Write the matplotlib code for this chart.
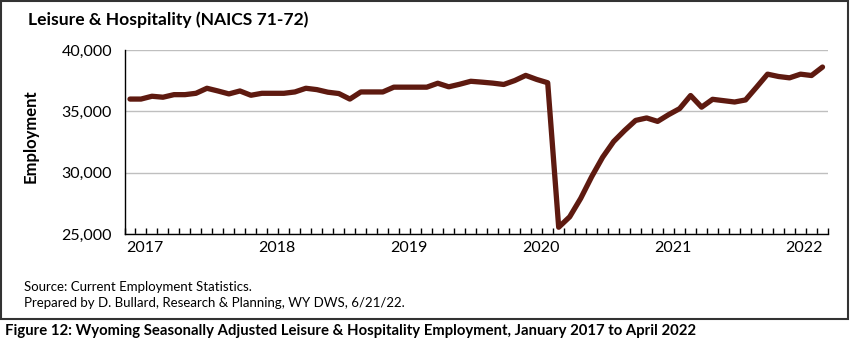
import matplotlib
matplotlib.use("Agg")
import matplotlib.pyplot as plt
from matplotlib.patches import Rectangle
import numpy as np

plt.rcParams['font.family'] = ['Lato', 'DejaVu Sans']

# Monthly seasonally adjusted employment, Jan 2017 - Apr 2022
employment = [
    36000, 36000, 36230, 36150, 36360, 36360, 36470, 36880, 36660, 36420, 36660, 36310,  # 2017
    36470, 36470, 36470, 36580, 36880, 36770, 36560, 36450, 36000, 36580, 36580, 36580,  # 2018
    36970, 36970, 36970, 36970, 37290, 37000, 37210, 37450, 37380, 37300, 37190, 37510,  # 2019
    37930, 37600, 37330, 25550, 26400, 27900, 29670, 31260, 32540, 33440, 34260, 34460,  # 2020
    34180, 34730, 35220, 36290, 35340, 35980, 35870, 35760, 35930, 36970, 38030, 37840,  # 2021
    37730, 38030, 37920, 38610,                                                          # 2022
]
year_labels = ["2017", "2018", "2019", "2020", "2021", "2022"]
y_ticks = [25000, 30000, 35000, 40000]

W, H = 850, 348
fig = plt.figure(figsize=(W / 100, H / 100), dpi=100)
ax = fig.add_axes([124.5 / W, 1 - 234 / H, (828 - 124.5) / W, (234 - 50) / H])

months = np.arange(len(employment))
ax.plot(months, employment, color="#5E1A10", lw=3.8, solid_joinstyle="round",
        solid_capstyle="round", zorder=3)

ax.set_xlim(-0.5, len(employment) - 0.5)
ax.set_ylim(25000, 40000)

# horizontal gridlines
ax.set_yticks(y_ticks)
ax.set_yticklabels([f"{v:,}" for v in y_ticks], fontsize=11.5)
ax.yaxis.grid(True, color="#BFBFBF", lw=1.0)
ax.set_axisbelow(True)
ax.tick_params(axis="y", length=0, pad=9)

# year labels at each January, small tick marks between months
ax.set_xticks(np.arange(0, len(employment), 12) - 0.35)
ax.set_xticklabels(year_labels, fontsize=11.5, ha="left")
ax.tick_params(axis="x", which="major", length=0, pad=5)
ax.set_xticks(np.arange(-0.5, len(employment), 1.0), minor=True)
ax.tick_params(axis="x", which="minor", direction="in", length=4.5, width=1.0, color="black")

for s in ("top", "right"):
    ax.spines[s].set_visible(False)
ax.spines["left"].set_color("black")
ax.spines["bottom"].set_color("black")
ax.spines["left"].set_linewidth(1.0)
ax.spines["bottom"].set_linewidth(1.0)

fig.text(31 / W, 1 - 136 / H, "Employment", rotation=90, fontsize=12,
         fontweight="bold", ha="center", va="center")

fig.text(28 / W, 1 - 20 / H, "Leisure & Hospitality (NAICS 71-72)", fontsize=12.6,
         fontweight="bold", ha="left", va="center")

fig.text(24 / W, 1 - 287 / H, "Source: Current Employment Statistics.", fontsize=9.5,
         ha="left", va="center")
fig.text(24 / W, 1 - 303 / H,
         "Prepared by D. Bullard, Research & Planning, WY DWS, 6/21/22.", fontsize=9.5,
         ha="left", va="center")

# chart frame
fig.add_artist(Rectangle((1 / W, 1 - 319 / H), 847 / W, 318 / H, transform=fig.transFigure,
                         fill=False, edgecolor="#333333", lw=1.5))

fig.text(5 / W, 1 - 331 / H,
         "Figure 12: Wyoming Seasonally Adjusted Leisure & Hospitality Employment, January 2017 to April 2022",
         fontsize=10.7, fontweight="bold", ha="left", va="center")

fig.savefig("out.png", dpi=100)
